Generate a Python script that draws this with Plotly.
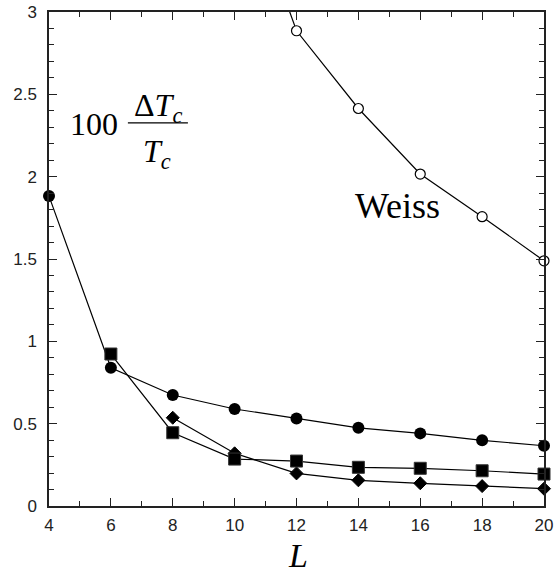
import plotly.graph_objects as go

L_circ = [4, 6, 8, 10, 12, 14, 16, 18, 20]
v_circ = [1.882, 0.84, 0.674, 0.589, 0.532, 0.475, 0.441, 0.399, 0.366]

L_sq = [6, 8, 10, 12, 14, 16, 18, 20]
v_sq = [0.923, 0.445, 0.285, 0.273, 0.235, 0.229, 0.214, 0.194]

L_dia = [8, 10, 12, 14, 16, 18, 20]
v_dia = [0.536, 0.32, 0.198, 0.156, 0.138, 0.121, 0.105]

L_weiss = [10, 12, 14, 16, 18, 20]
v_weiss = [3.93, 2.886, 2.414, 2.016, 1.757, 1.489]

x_ticks = [4, 6, 8, 10, 12, 14, 16, 18, 20]
y_ticks = [0, 0.5, 1, 1.5, 2, 2.5, 3]
y_labels = ["0", "0.5", "1", "1.5", "2", "2.5", "3"]

fig = go.Figure()
line = dict(color="black", width=1.2)

fig.add_trace(go.Scatter(x=L_circ, y=v_circ, mode="lines+markers", line=line,
                         marker=dict(symbol="circle", size=12, color="black"), cliponaxis=False))
fig.add_trace(go.Scatter(x=L_dia, y=v_dia, mode="lines+markers", line=line,
                         marker=dict(symbol="diamond", size=10, color="black",
                                     line=dict(color="black", width=1)), cliponaxis=False))
fig.add_trace(go.Scatter(x=L_sq, y=v_sq, mode="lines+markers", line=line,
                         marker=dict(symbol="square", size=12, color="black",
                                     line=dict(color="#333", width=1)), cliponaxis=False))
fig.add_trace(go.Scatter(x=L_weiss, y=v_weiss, mode="lines+markers", line=line,
                         marker=dict(symbol="circle", size=10, color="white",
                                     line=dict(color="black", width=1.2)), cliponaxis=False))

axis_common = dict(showline=True, linecolor="#222", linewidth=1.5, mirror="allticks",
                   ticks="inside", ticklen=8, tickwidth=1.2, tickcolor="#222",
                   showgrid=False, zeroline=False, automargin=False,
                   tickfont=dict(family="Liberation Sans, Arial, sans-serif", size=17, color="#222"))

fig.update_xaxes(range=[4, 20], tickvals=x_ticks, ticktext=[str(t) for t in x_ticks],
                 ticklabelstandoff=3,
                 minor=dict(ticks="inside", dtick=1, ticklen=5, tickwidth=1.2, tickcolor="#222", showgrid=False),
                 **axis_common)
fig.update_yaxes(range=[0, 3], tickvals=y_ticks, ticktext=y_labels,
                 ticklabelstandoff=7,
                 minor=dict(ticks="inside", dtick=0.1, ticklen=5, tickwidth=1.2, tickcolor="#222", showgrid=False),
                 **axis_common)

serif = "Liberation Serif, Times New Roman, serif"
annos = [
    dict(x=0.503, y=-0.1, xref="paper", yref="paper", text="<i>L</i>",
         font=dict(family=serif, size=34, color="black")),
    dict(x=15.28, y=1.82, xref="x", yref="y", text="Weiss",
         font=dict(family=serif, size=36, color="black")),
    dict(x=5.44, y=2.32, xref="x", yref="y", text="100",
         font=dict(family=serif, size=32, color="black")),
    dict(x=7.52, y=2.42, xref="x", yref="y", text="Δ<i>T</i><sub><i>c</i></sub>",
         font=dict(family=serif, size=32, color="black")),
    dict(x=7.49, y=2.14, xref="x", yref="y", text="<i>T</i><sub><i>c</i></sub>",
         font=dict(family=serif, size=32, color="black")),
]
for a in annos:
    fig.add_annotation(showarrow=False, xanchor="center", yanchor="middle", **a)

fig.add_shape(type="line", x0=6.55, x1=8.49, y0=2.327, y1=2.327, xref="x", yref="y",
              line=dict(color="black", width=1.3))

fig.update_layout(width=554, height=571, margin=dict(l=49, r=10, t=12, b=65, autoexpand=False),
                  plot_bgcolor="white", paper_bgcolor="white", showlegend=False)

fig.write_html("out.html", config={"displayModeBar": False},
               post_script="document.body.style.margin='0';document.body.style.overflow='hidden';")
